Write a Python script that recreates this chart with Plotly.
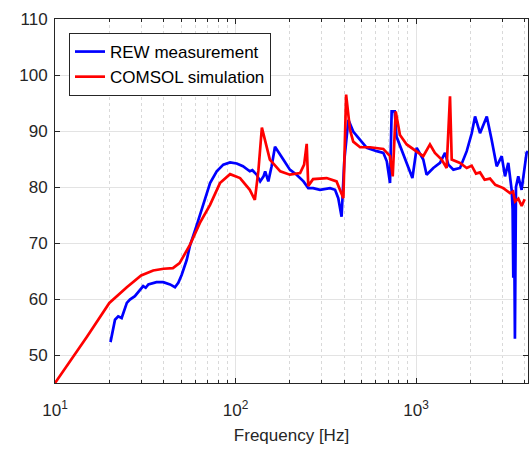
import plotly.graph_objects as go

# COMSOL simulation (red)
sim_f = [10, 15, 20, 25, 30, 35, 40, 45, 49, 56, 63.5, 72.3, 82, 93.3, 106, 120, 128, 134, 140,
         148, 155, 177, 200, 228, 240, 248, 253, 269, 320, 363, 379, 396, 410, 431, 449, 490, 556,
         659, 718, 743, 772, 815, 888, 967, 1097, 1195, 1273, 1387, 1478, 1543, 1577, 1753, 1910,
         2034, 2150, 2263, 2400, 2570, 2750, 3048, 3320, 3450, 3539, 3690, 3850, 4000]
sim_db = [45, 53.2, 59.3, 62.1, 64.2, 65.1, 65.4, 65.5, 66.4, 69.7, 73.6, 76.8, 80.7, 82.3, 81.6,
          79.5, 77.7, 83.0, 90.6, 87.5, 84.9, 82.8, 82.2, 82.5, 84.0, 87.7, 80.2, 81.4, 81.6, 81.0,
          79.5, 78.0, 96.5, 90.2, 88.1, 87.1, 87.1, 86.8, 85.5, 81.9, 93.5, 89.3, 87.6, 86.7, 85.5,
          87.6, 86.1, 84.9, 83.4, 96.2, 84.9, 84.3, 83.4, 83.8, 82.4, 82.6, 81.3, 81.5, 80.4, 79.8,
          78.9, 79.2, 77.4, 77.9, 76.6, 77.8]

# REW measurement (blue)
rew_f = [20.3, 21.5, 22.4, 23.4, 25, 26, 27.7, 29.6, 30.8, 31.8, 32.9, 36.5, 39.8, 43.4, 46.2,
         48.2, 50.3, 53.7, 56, 61, 66.4, 72.3, 78.7, 85.6, 93.3, 101.6, 110, 120, 124, 131, 137,
         143, 146, 152, 158.5, 165.5, 184, 200, 218, 238, 253, 269, 294, 334, 356, 371, 387, 401,
         422, 449, 490, 534, 606, 659, 689, 718, 733, 762, 780, 832, 888, 955, 1009, 1097, 1145,
         1247, 1358, 1448, 1511, 1611, 1754, 1910, 2036, 2124, 2263, 2467, 2626, 2799, 2985, 3113,
         3246, 3388, 3430, 3460, 3490, 3532, 3580, 3687, 3848, 4099, 4170]
rew_db = [52.3, 56.3, 56.9, 56.6, 59.3, 59.9, 60.5, 61.7, 62.3, 62.0, 62.6, 63.0, 63.0, 62.6, 62.1,
          62.9, 64.3, 67.0, 69.6, 73.2, 77.1, 80.7, 82.8, 84.0, 84.4, 84.2, 83.7, 82.8, 83.0, 82.2,
          81.0, 81.9, 82.8, 81.0, 83.7, 87.2, 84.9, 83.1, 82.2, 81.0, 79.8, 79.8, 79.5, 79.8, 79.5,
          78.0, 74.7, 84.9, 92.0, 89.9, 88.4, 87.0, 86.4, 86.1, 84.6, 80.7, 93.5, 93.5, 89.0, 86.7,
          84.3, 81.6, 87.0, 84.9, 82.2, 83.4, 84.3, 86.1, 84.0, 83.1, 83.4, 86.4, 89.6, 92.6, 89.6,
          92.6, 88.4, 83.7, 85.5, 81.9, 84.3, 79.5, 76.0, 63.8, 78.0, 52.9, 80.0, 81.9, 79.5, 86.1,
          86.4]

x_major = [10, 100, 1000]
x_major_text = ["10<sup>1</sup>", "10<sup>2</sup>", "10<sup>3</sup>"]
x_minor = [20, 30, 40, 50, 60, 70, 80, 90, 200, 300, 400, 500, 600, 700, 800, 900,
           2000, 3000, 4000]
y_ticks = [50, 60, 70, 80, 90, 100, 110]

axis_col = "#262626"
grid_col = "#e3e3e3"
font_fam = "Liberation Sans, Arial, sans-serif"

fig = go.Figure()
fig.add_trace(go.Scatter(x=rew_f, y=rew_db, mode="lines", name="REW measurement",
                         line=dict(color="#0000ff", width=2.7)))
fig.add_trace(go.Scatter(x=sim_f, y=sim_db, mode="lines", name="COMSOL simulation",
                         line=dict(color="#ff0000", width=2.7)))

fig.update_layout(
    width=529, height=449,
    margin=dict(l=55, r=1, t=19, b=66, autoexpand=False),
    paper_bgcolor="white", plot_bgcolor="white",
    font=dict(family=font_fam, size=17, color=axis_col),
    showlegend=True,
    legend=dict(x=0.0296, y=0.9615, xanchor="left", yanchor="top",
                bordercolor=axis_col, borderwidth=1, bgcolor="white",
                font=dict(size=17, color="#000000"), tracegroupgap=0),
    xaxis=dict(type="log", range=[1, 3.6205], automargin=False,
               tickvals=x_major, ticktext=x_major_text,
               ticks="inside", ticklen=5, tickcolor=axis_col,
               showline=True, linecolor=axis_col, linewidth=1, mirror="ticks",
               showgrid=True, gridcolor=grid_col, gridwidth=1,
               zeroline=False,
               minor=dict(tickvals=x_minor, ticks="inside", ticklen=3, tickcolor=axis_col,
                          showgrid=True, gridcolor="#d9d9d9", griddash="dot", gridwidth=1),
               title=dict(text="Frequency [Hz]", font=dict(size=17, color=axis_col), standoff=9),
               ticklabelstandoff=12),
    yaxis=dict(range=[45, 110], tickvals=y_ticks, automargin=False,
               ticks="inside", ticklen=5, tickcolor=axis_col,
               showline=True, linecolor=axis_col, linewidth=1, mirror="ticks",
               showgrid=True, gridcolor=grid_col, gridwidth=1, zeroline=False,
               ticklabelstandoff=3),
)

fig.write_html("out.html", config={"displayModeBar": False},
               post_script="document.body.style.margin='0';document.body.style.overflow='hidden';")
